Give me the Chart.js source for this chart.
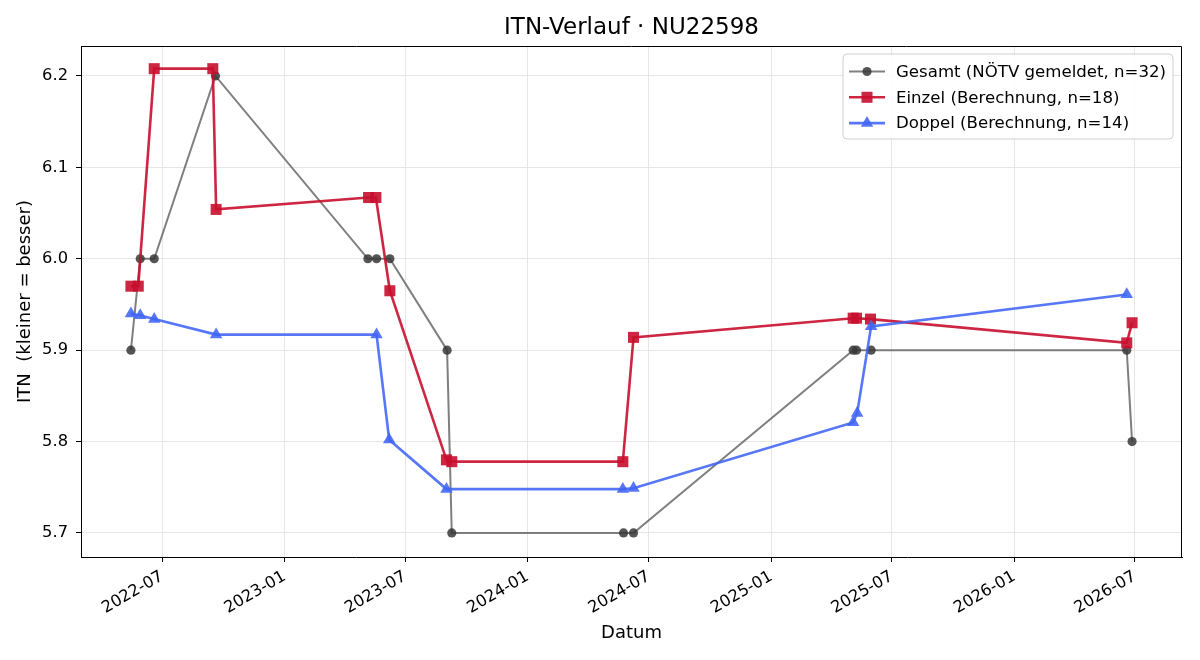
<!DOCTYPE html>
<html>
<head>
<meta charset="utf-8">
<script src="https://cdn.jsdelivr.net/npm/chart.js@4/dist/chart.umd.min.js"></script>
<style>
  html, body { margin: 0; padding: 0; background: #fff; }
</style>
</head>
<body>
<canvas id="itnChart" width="1200" height="660"></canvas>
<script>
// --- data ---
const gesamtDates  = ['2022-05-15','2022-05-29','2022-06-19','2022-09-19','2023-05-06','2023-05-19','2023-06-08','2023-09-02','2023-09-09','2024-05-24','2024-06-08','2025-05-04','2025-05-09','2025-05-31','2026-06-19','2026-06-27'];
const gesamtValues = [5.9, 6.0, 6.0, 6.2, 6.0, 6.0, 6.0, 5.9, 5.7, 5.7, 5.7, 5.9, 5.9, 5.9, 5.9, 5.8];

const einzelDates  = ['2022-05-15','2022-05-26','2022-06-19','2022-09-15','2022-09-20','2023-05-07','2023-05-18','2023-06-08','2023-09-01','2023-09-09','2024-05-23','2024-06-08','2025-05-04','2025-05-09','2025-05-30','2026-06-19','2026-06-27'];
const einzelValues = [5.970, 5.970, 6.208, 6.208, 6.054, 6.067, 6.067, 5.965, 5.780, 5.778, 5.778, 5.914, 5.935, 5.935, 5.934, 5.908, 5.930];

const doppelDates  = ['2022-05-15','2022-05-29','2022-06-19','2022-09-20','2023-05-19','2023-06-07','2023-09-01','2024-05-23','2024-06-08','2025-05-04','2025-05-10','2025-05-31','2026-06-19'];
const doppelValues = [5.940, 5.938, 5.934, 5.917, 5.917, 5.802, 5.748, 5.748, 5.749, 5.821, 5.831, 5.926, 5.961];

const seriesLabels = ['Gesamt (NÖTV gemeldet, n=32)', 'Einzel (Berechnung, n=18)', 'Doppel (Berechnung, n=14)'];

const xTickDates  = ['2022-07-01','2023-01-01','2023-07-01','2024-01-01','2024-07-01','2025-01-01','2025-07-01','2026-01-01','2026-07-01'];
const xTickLabels = ['2022-07','2023-01','2023-07','2024-01','2024-07','2025-01','2025-07','2026-01','2026-07'];
const yTicks      = [5.7, 5.8, 5.9, 6.0, 6.1, 6.2];
const yTickLabels = ['5.7', '5.8', '5.9', '6.0', '6.1', '6.2'];

const xMinDate = '2022-03-01';
const xMaxDate = '2026-09-10';
const yMin = 5.6737;
const yMax = 6.2328;

function toTs(s) {
  const p = s.split('-');
  return Date.UTC(+p[0], +p[1] - 1, +p[2]);
}
function toPoints(dates, values) {
  return dates.map((d, i) => ({ x: toTs(d), y: values[i] }));
}

const FONT = "'DejaVu Sans', 'Liberation Sans', sans-serif";

// title centred over the plot area, top/right spines, legend box inside plot
const decorations = {
  id: 'decorations',
  afterDatasetsDraw(chart) {
    const ctx = chart.ctx;
    const a = chart.chartArea;
    ctx.save();
    ctx.strokeStyle = '#000';
    ctx.lineWidth = 1;
    ctx.beginPath();
    ctx.moveTo(Math.round(a.left) + 0.5, Math.round(a.top) + 0.5);
    ctx.lineTo(Math.round(a.right) - 0.5, Math.round(a.top) + 0.5);
    ctx.lineTo(Math.round(a.right) - 0.5, Math.round(a.bottom));
    ctx.stroke();
    ctx.restore();
  },
  afterDraw(chart) {
    const ctx = chart.ctx;
    const a = chart.chartArea;
    ctx.save();
    // title
    ctx.fillStyle = '#000';
    ctx.font = '23px ' + FONT;
    ctx.textAlign = 'center';
    ctx.textBaseline = 'middle';
    ctx.fillText('ITN-Verlauf · NU22598', (a.left + a.right) / 2, 28);

    // legend
    const bw = 330, bh = 85;
    const bx = a.right - 9 - bw, by = a.top + 8;
    const r = 4;
    ctx.beginPath();
    ctx.moveTo(bx + r, by);
    ctx.lineTo(bx + bw - r, by);
    ctx.arcTo(bx + bw, by, bx + bw, by + r, r);
    ctx.lineTo(bx + bw, by + bh - r);
    ctx.arcTo(bx + bw, by + bh, bx + bw - r, by + bh, r);
    ctx.lineTo(bx + r, by + bh);
    ctx.arcTo(bx, by + bh, bx, by + bh - r, r);
    ctx.lineTo(bx, by + r);
    ctx.arcTo(bx, by, bx + r, by, r);
    ctx.closePath();
    ctx.fillStyle = 'rgba(255,255,255,0.85)';
    ctx.fill();
    ctx.strokeStyle = '#d0d0d0';
    ctx.lineWidth = 1;
    ctx.stroke();

    ctx.font = '16.6px ' + FONT;
    ctx.textAlign = 'left';
    ctx.textBaseline = 'middle';
    chart.data.datasets.forEach((ds, i) => {
      const cy = by + 17.5 + i * 25.8;
      ctx.strokeStyle = ds.borderColor;
      ctx.lineWidth = ds.borderWidth;
      ctx.beginPath();
      ctx.moveTo(bx + 6, cy);
      ctx.lineTo(bx + 42, cy);
      ctx.stroke();
      ctx.fillStyle = ds.pointBackgroundColor;
      ctx.strokeStyle = ds.pointBorderColor;
      ctx.lineWidth = ds.pointBorderWidth;
      Chart.helpers.drawPoint(ctx, {
        pointStyle: ds.pointStyle, radius: ds.pointRadius,
        rotation: 0, borderWidth: ds.pointBorderWidth
      }, bx + 24, cy);
      ctx.fillStyle = '#000';
      ctx.fillText(ds.label, bx + 53, cy + 1);
    });
    ctx.restore();
  }
};

const ctx = document.getElementById('itnChart').getContext('2d');
const chart = new Chart(ctx, {
  type: 'line',
  data: {
    datasets: [{
      label: seriesLabels[0],
      data: toPoints(gesamtDates, gesamtValues),
      borderColor: 'rgba(95,95,95,0.8)',
      borderWidth: 2,
      pointStyle: 'circle',
      pointRadius: 4.6,
      pointBackgroundColor: 'rgba(55,55,55,0.85)',
      pointBorderColor: 'rgba(55,55,55,0.85)',
      pointBorderWidth: 0,
      order: 3
    }, {
      label: seriesLabels[1],
      data: toPoints(einzelDates, einzelValues),
      borderColor: 'rgba(200,14,45,0.9)',
      borderWidth: 2.6,
      pointStyle: 'rect',
      pointRadius: 7.8,
      pointBackgroundColor: 'rgba(200,14,45,0.9)',
      pointBorderColor: 'rgba(200,14,45,0.9)',
      pointBorderWidth: 0,
      order: 2
    }, {
      label: seriesLabels[2],
      data: toPoints(doppelDates, doppelValues),
      borderColor: 'rgba(65,100,245,0.88)',
      borderWidth: 2.6,
      pointStyle: 'triangle',
      pointRadius: 7.2,
      pointBackgroundColor: 'rgba(65,100,245,0.88)',
      pointBorderColor: 'rgba(65,100,245,0.88)',
      pointBorderWidth: 0,
      order: 1
    }]
  },
  options: {
    responsive: false,
    animation: false,
    devicePixelRatio: 1,
    layout: { padding: { top: 46, right: 18, left: 0, bottom: 0 } },
    elements: { line: { tension: 0 } },
    plugins: {
      legend: { display: false },
      title: { display: false },
      tooltip: { enabled: false }
    },
    scales: {
      x: {
        type: 'linear',
        min: toTs(xMinDate),
        max: toTs(xMaxDate),
        afterBuildTicks: (scale) => { scale.ticks = xTickDates.map(d => ({ value: toTs(d) })); },
        afterFit: (scale) => { scale.height = 103; },
        ticks: {
          autoSkip: false,
          minRotation: 30,
          maxRotation: 30,
          padding: 5,
          color: '#000',
          font: { family: FONT, size: 16.3 },
          callback: (v, i) => xTickLabels[i]
        },
        grid: { color: '#e6e6e6', lineWidth: 1, tickLength: 5, tickColor: '#000' },
        border: { display: true, color: '#000', width: 1 },
        title: {
          display: true, text: 'Datum', color: '#000',
          font: { family: FONT, size: 18 },
          padding: { top: 0, bottom: 15.5 }
        }
      },
      y: {
        type: 'linear',
        min: yMin,
        max: yMax,
        afterBuildTicks: (scale) => { scale.ticks = yTicks.map(v => ({ value: v })); },
        afterFit: (scale) => { scale.width = 81; },
        ticks: {
          padding: 8,
          color: '#000',
          font: { family: FONT, size: 16.3 },
          callback: (v, i) => yTickLabels[i]
        },
        grid: { color: '#e6e6e6', lineWidth: 1, tickLength: 5, tickColor: '#000' },
        border: { display: true, color: '#000', width: 1 },
        title: {
          display: true, text: 'ITN  (kleiner = besser)', color: '#000',
          font: { family: FONT, size: 18 },
          padding: { top: 15, bottom: 0 }
        }
      }
    }
  },
  plugins: [decorations]
});
</script>
</body>
</html>
